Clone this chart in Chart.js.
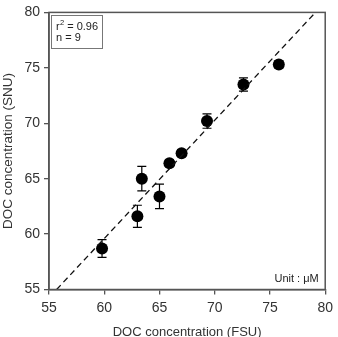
<!DOCTYPE html>
<html>
<head>
<meta charset="utf-8">
<script src="https://cdn.jsdelivr.net/npm/chart.js@4.4.1/dist/chart.umd.min.js"></script>
<style>
html,body{margin:0;padding:0;background:#fff;}
#wrap{width:338px;height:337px;}
</style>
</head>
<body>
<div id="wrap"><canvas id="c" width="338" height="337"></canvas></div>
<script>
// ---- data ----
const fsu = [59.8, 63.0, 63.4, 65.0, 65.9, 67.0, 69.3, 72.6, 75.8];
const snu = [58.7, 61.6, 65.0, 63.4, 66.4, 67.3, 70.2, 73.5, 75.3];
const snuErr = [0.8, 1.0, 1.1, 1.1, 0.3, 0.3, 0.65, 0.6, 0.3];
const tickValues = [55, 60, 65, 70, 75, 80];
const fitSlope = 1.067;
const fitIntercept = -4.42;
const fitRange = [55.69, 79.12];
const statsText = ['r', '2', ' = 0.96', 'n = 9'];
const unitText = 'Unit : \u03bcM';
const xTitle = 'DOC concentration (FSU)';
const yTitle = 'DOC concentration (SNU)';

const FONT = "'Liberation Sans', Arial, Helvetica, sans-serif";
const pts = fsu.map((x, i) => ({x: x, y: snu[i]}));
const fitPts = fitRange.map(x => ({x: x, y: fitSlope * x + fitIntercept}));

const extras = {
  id: 'extras',
  beforeDatasetsDraw(chart) {
    const ctx = chart.ctx, xs = chart.scales.x, ys = chart.scales.y;
    ctx.save();
    ctx.strokeStyle = '#000';
    ctx.lineWidth = 1.2;
    fsu.forEach((x, i) => {
      const px = xs.getPixelForValue(x);
      const top = ys.getPixelForValue(snu[i] + snuErr[i]);
      const bot = ys.getPixelForValue(snu[i] - snuErr[i]);
      ctx.beginPath();
      ctx.moveTo(px, top); ctx.lineTo(px, bot);
      ctx.moveTo(px - 4.5, top); ctx.lineTo(px + 4.5, top);
      ctx.moveTo(px - 4.5, bot); ctx.lineTo(px + 4.5, bot);
      ctx.stroke();
    });
    ctx.restore();
  },
  afterDraw(chart) {
    const ctx = chart.ctx, a = chart.chartArea;
    ctx.save();
    ctx.strokeStyle = '#555';
    ctx.lineWidth = 1.5;
    ctx.strokeRect(a.left, a.top, a.right - a.left, a.bottom - a.top);
    // stats box
    ctx.strokeStyle = '#777';
    ctx.lineWidth = 1;
    ctx.strokeRect(Math.round(a.left + 2) + 0.5, Math.round(a.top + 2.5) + 0.5, 51, 33);
    ctx.fillStyle = '#222';
    ctx.textBaseline = 'alphabetic';
    ctx.textAlign = 'left';
    ctx.font = '11px ' + FONT;
    const tx = a.left + 7;
    ctx.fillText(statsText[0], tx, a.top + 17.5);
    const rw = ctx.measureText(statsText[0]).width;
    ctx.font = '7.5px ' + FONT;
    ctx.fillText(statsText[1], tx + rw + 0.3, a.top + 12.5);
    const sw = ctx.measureText(statsText[1]).width;
    ctx.font = '11px ' + FONT;
    ctx.fillText(statsText[2], tx + rw + sw + 0.3, a.top + 17.5);
    ctx.fillText(statsText[3], tx, a.top + 28.5);
    // unit
    ctx.textAlign = 'right';
    ctx.fillText(unitText, a.right - 6.5, a.bottom - 8);
    ctx.restore();
  }
};

new Chart(document.getElementById('c'), {
  type: 'scatter',
  data: {
    datasets: [
      {
        data: fitPts,
        showLine: true,
        borderColor: '#111',
        borderWidth: 1.3,
        borderDash: [6, 4],
        pointRadius: 0,
        fill: false
      },
      {
        data: pts,
        backgroundColor: '#000',
        borderColor: '#000',
        borderWidth: 0,
        pointRadius: 6,
        pointHoverRadius: 6
      }
    ]
  },
  options: {
    responsive: false,
    animation: false,
    events: [],
    layout: {padding: {top: 9.5, right: 10, left: 0, bottom: 0}},
    plugins: {legend: {display: false}, tooltip: {enabled: false}},
    scales: {
      x: {
        type: 'linear',
        min: 55, max: 80,
        afterBuildTicks: s => { s.ticks = tickValues.map(v => ({value: v})); },
        afterFit: s => { s.height = 47.5; },
        ticks: {font: {size: 14, family: FONT}, color: '#333', padding: 5, maxRotation: 0},
        grid: {drawOnChartArea: false, drawTicks: true, tickLength: 5, color: '#555', lineWidth: 1.3},
        border: {display: true, color: '#555', width: 1.5},
        title: {display: true, text: xTitle, font: {size: 13, family: FONT}, color: '#333', padding: {top: 0, bottom: -3.5}}
      },
      y: {
        type: 'linear',
        min: 55, max: 80,
        afterBuildTicks: s => { s.ticks = tickValues.map(v => ({value: v})); },
        afterFit: s => { s.width = 49; },
        ticks: {font: {size: 14, family: FONT}, color: '#333', padding: 4},
        grid: {drawOnChartArea: false, drawTicks: true, tickLength: 5, color: '#555', lineWidth: 1.3},
        border: {display: true, color: '#555', width: 1.5},
        title: {display: true, text: yTitle, font: {size: 13.5, family: FONT}, color: '#333', padding: {top: 0, bottom: 0}}
      }
    }
  },
  plugins: [extras]
});
</script>
</body>
</html>
